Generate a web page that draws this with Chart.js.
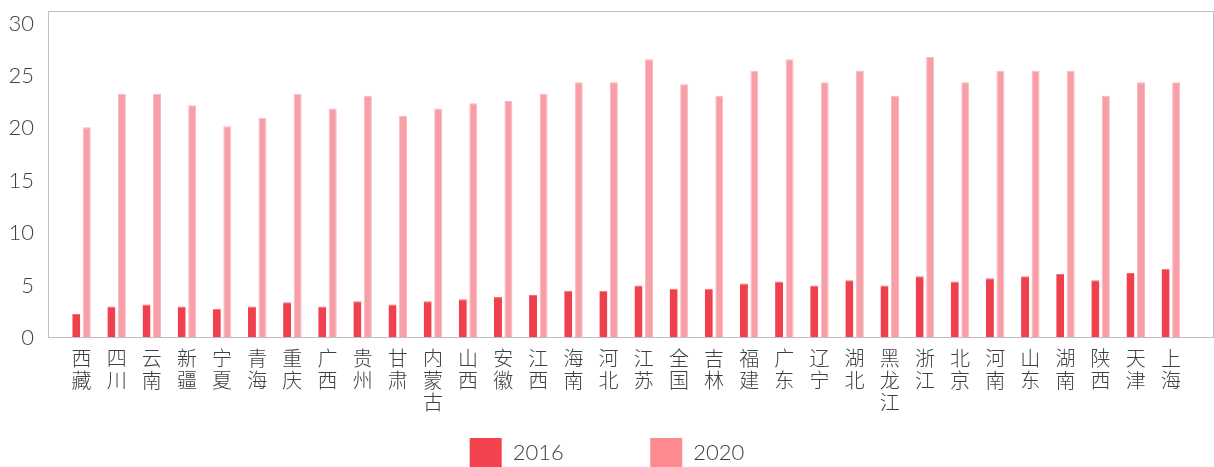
<!DOCTYPE html>
<html>
<head>
<meta charset="utf-8">
<script src="https://cdn.jsdelivr.net/npm/chart.js@4.4.1/dist/chart.umd.min.js"></script>
<style>
  html, body { margin: 0; padding: 0; background: #ffffff; overflow: hidden; }
  #wrap { width: 1214px; height: 467px; position: relative; }
  canvas { display: block; }
</style>
</head>
<body>
<div id="wrap"><canvas id="c"></canvas></div>
<script>
const categories = ['西藏','四川','云南','新疆','宁夏','青海','重庆','广西','贵州','甘肃','内蒙古','山西','安徽','江西','海南','河北','江苏','全国','吉林','福建','广东','辽宁','湖北','黑龙江','浙江','北京','河南','山东','湖南','陕西','天津','上海'];
const seriesNames = ['2016', '2020'];
const values2016 = [2.3, 3.0, 3.2, 3.0, 2.8, 3.0, 3.4, 3.0, 3.5, 3.2, 3.5, 3.7, 3.9, 4.1, 4.5, 4.5, 5.0, 4.7, 4.7, 5.2, 5.4, 5.0, 5.5, 5.0, 5.9, 5.4, 5.7, 5.9, 6.1, 5.5, 6.2, 6.6];
const values2020 = [20.1, 23.3, 23.3, 22.2, 20.2, 21.0, 23.3, 21.9, 23.1, 21.2, 21.9, 22.4, 22.6, 23.3, 24.4, 24.4, 26.6, 24.2, 23.1, 25.5, 26.6, 24.4, 25.5, 23.1, 26.8, 24.4, 25.5, 25.5, 25.5, 23.1, 24.4, 24.4];
const yTicks = [0, 5, 10, 15, 20, 25, 30];

const textColor = '#404040';
const digitFont = 'Lato, "Noto Sans CJK SC", sans-serif';
const cjkFont = '"Noto Sans CJK SC", sans-serif';

const toPoints = arr => arr.map((v, i) => ({ x: i, y: v }));

const framePlugin = {
  id: 'frame',
  afterDatasetsDraw(chart) {
    const a = chart.chartArea, ctx = chart.ctx;
    ctx.save();
    ctx.strokeStyle = '#bfbfbf';
    ctx.lineWidth = 1;
    ctx.strokeRect(Math.round(a.left) - 0.5, Math.round(a.top) - 0.5, Math.round(a.right) - Math.round(a.left), Math.round(a.bottom) - Math.round(a.top));
    ctx.restore();
  }
};

new Chart(document.getElementById('c'), {
  type: 'bar',
  data: {
    datasets: [
      {
        label: seriesNames[0],
        data: toPoints(values2016),
        backgroundColor: '#f0404e',
        borderColor: '#f36a75',
        borderWidth: { top: 1, left: 0, right: 0, bottom: 0 },
        categoryPercentage: 0.598,
        barPercentage: 0.76
      },
      {
        label: seriesNames[1],
        data: toPoints(values2020),
        backgroundColor: '#f79ea6',
        borderColor: '#fab8bd',
        borderWidth: 1,
        categoryPercentage: 0.598,
        barPercentage: 0.76
      }
    ]
  },
  options: {
    responsive: true,
    maintainAspectRatio: false,
    animation: false,
    layout: { padding: { top: 0, right: 0, bottom: 0, left: 0 } },
    scales: {
      x: {
        type: 'linear',
        offset: false,
        bounds: 'data',
        min: -0.925,
        max: 32.227,
        grid: { display: false, drawTicks: false, offset: false },
        border: { display: false },
        afterFit(scale) {
          scale.height = 80;
          scale.paddingLeft = 0;
          scale.paddingRight = 0;
        },
        afterBuildTicks(scale) {
          scale.ticks = categories.map((c, i) => ({ value: i }));
        },
        ticks: {
          autoSkip: false,
          maxRotation: 0,
          minRotation: 0,
          padding: 10,
          color: textColor,
          font: { family: cjkFont, size: 20, weight: 300, lineHeight: 1.08 },
          callback: (v) => (Number.isInteger(v) && categories[v] !== undefined) ? Array.from(categories[v]) : ''
        }
      },
      y: {
        min: 0,
        max: 31.1,
        bounds: 'data',
        grid: { display: false, drawTicks: false },
        border: { display: false },
        afterFit(scale) {
          scale.width = 49;
          scale.paddingTop = 12;
          scale.paddingBottom = 0;
        },
        afterBuildTicks(scale) {
          scale.ticks = yTicks.map(v => ({ value: v }));
        },
        ticks: {
          padding: 15,
          color: textColor,
          font: { family: digitFont, size: 22, weight: 300, lineHeight: 1.05 }
        }
      }
    },
    plugins: {
      tooltip: { enabled: false },
      legend: {
        position: 'bottom',
        maxHeight: 49,
        labels: {
          boxWidth: 32,
          boxHeight: 29,
          padding: 20,
          color: textColor,
          font: { family: digitFont, size: 22, weight: 300 },
          generateLabels(chart) {
            const legendColors = ['#f3434f', '#fc8a90'];
            return chart.data.datasets.map((ds, i) => ({
              text: ds.label + (i === 0 ? '\u2003\u2003\u2003\u2002 ' : ''),
              fillStyle: legendColors[i],
              strokeStyle: legendColors[i],
              lineWidth: 0,
              fontColor: textColor,
              hidden: false,
              datasetIndex: i
            }));
          }
        }
      }
    }
  },
  plugins: [framePlugin]
});
</script>
</body>
</html>
